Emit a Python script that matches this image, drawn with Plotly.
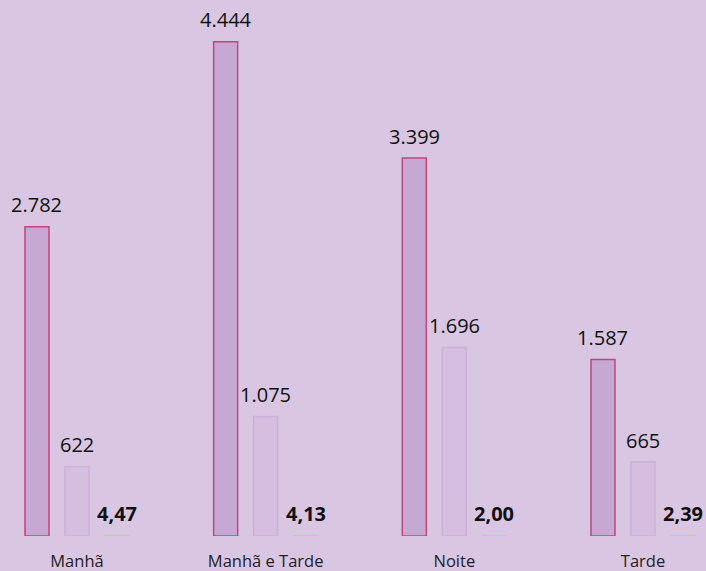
import plotly.graph_objects as go

categories = ["Manhã", "Manhã e Tarde", "Noite", "Tarde"]
serie_a = [2782, 4444, 3399, 1587]
serie_b = [622, 1075, 1696, 665]
serie_c = [4.47, 4.13, 2.00, 2.39]

def fmt_int(v):
    return f"{v:,.0f}".replace(",", ".")

def fmt_dec(v):
    return f"{v:.2f}".replace(".", ",")

fig = go.Figure()
fig.add_bar(x=categories, y=serie_a, name="A",
            marker=dict(color="#c6a9d3", line=dict(color="#c4447c", width=1.5)))
fig.add_bar(x=categories, y=serie_b, name="B",
            marker=dict(color="#d5bee0", line=dict(color="#cdb0d8", width=1.5)))
fig.add_bar(x=categories, y=serie_c, name="C",
            marker=dict(color="#a9d89c", line=dict(color="#a9d89c", width=1.2)))

font = "Open Sans, Noto Sans, sans-serif"
annotations = []
for cat, a, b, c in zip(categories, serie_a, serie_b, serie_c):
    for val, txt, dx, bold in ((a, fmt_int(a), -40, False),
                               (b, fmt_int(b), 0, False),
                               (c, fmt_dec(c), 40, True)):
        annotations.append(dict(
            x=cat, y=val, xref="x", yref="y", showarrow=False,
            text=f"<b>{txt}</b>" if bold else txt,
            xshift=dx, yshift=22, yanchor="middle", xanchor="center",
            font=dict(family=font, size=20, color="#111111")))

fig.update_layout(
    width=706, height=571,
    barmode="group", bargap=0.364, bargroupgap=0.4,
    paper_bgcolor="#d9c6e2", plot_bgcolor="#d9c6e2",
    margin=dict(l=0, r=0, t=0, b=35),
    showlegend=False,
    annotations=annotations,
    xaxis=dict(range=[-0.408, 3.334], showgrid=False, zeroline=False,
               showline=False, ticks="", ticklabelstandoff=13,
               tickfont=dict(family=font, size=16.5, color="#222222")),
    yaxis=dict(range=[0, 4820], visible=False, showgrid=False, zeroline=False),
)

fig.write_html("out.html", config={"displayModeBar": False},
               post_script="document.body.style.margin='0';document.body.style.padding='0';")
